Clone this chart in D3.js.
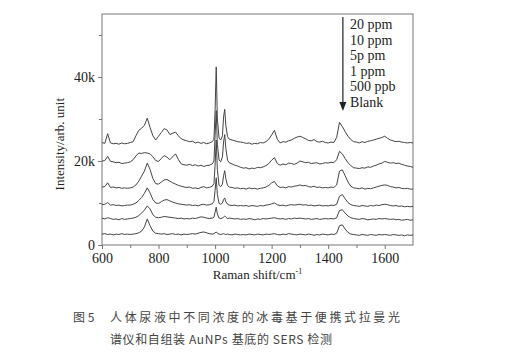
<!DOCTYPE html>
<html>
<head>
<meta charset="utf-8">
<script src="https://cdn.jsdelivr.net/npm/d3@7"></script>
<style>
  body { margin: 0; background: #fff; }
  svg { display: block; }
</style>
</head>
<body>
<script>
// Raman shift grid (cm-1), denser around the 1003 / 1033 bands
const shifts = [
  600, 610, 620, 630, 640, 650, 660, 670, 680, 690,
  700, 710, 720, 730, 740, 750, 760, 770, 780, 790,
  800, 810, 820, 830, 840, 850, 860, 870, 880, 890,
  900, 910, 920, 930, 940, 950, 960, 970, 980, 990,
  996, 1000, 1004, 1008, 1014, 1020, 1026, 1030, 1034, 1038, 1044, 1050,
  1060, 1070, 1080, 1090,
  1100, 1110, 1120, 1130, 1140, 1150, 1160, 1170, 1180, 1190,
  1200, 1210, 1220, 1230, 1240, 1250, 1260, 1270, 1280, 1290,
  1300, 1310, 1320, 1330, 1340, 1350, 1360, 1370, 1380, 1390,
  1400, 1410, 1420, 1430, 1440, 1450, 1460, 1470, 1480, 1490,
  1500, 1510, 1520, 1530, 1540, 1550, 1560, 1570, 1580, 1590,
  1600, 1610, 1620, 1630, 1640, 1650, 1660, 1670, 1680, 1690,
  1700
];

// intensities in thousands (already offset as in the figure)
const ppm20 = [
  24.4, 24.2, 26.5, 24.3, 24.1, 24.2, 24.0, 24.3, 24.1, 24.2,
  24.4, 24.6, 26.0, 27.3, 27.8, 28.5, 30.2, 28.0, 26.0, 25.0,
  25.9, 26.8, 27.7, 27.4, 26.3, 26.6, 26.9, 26.0, 25.3, 25.0,
  24.8, 24.6, 24.7, 24.3, 24.5, 24.2, 24.4, 24.1, 24.3, 24.6,
  25.2, 32.0, 42.4, 30.0, 25.5, 25.0, 26.0, 30.5, 32.3, 28.5, 25.8, 25.2,
  25.0, 24.8, 24.6, 24.5,
  24.4, 24.2, 24.3, 24.0, 24.2, 24.1, 24.4, 24.3, 24.6, 25.2,
  26.2, 27.3, 25.2, 24.3, 24.6, 24.5, 24.8, 25.0, 25.4, 25.7,
  25.9, 25.6, 25.3, 24.9, 24.8, 25.1, 24.6, 24.5, 24.7, 24.4,
  24.3, 24.5, 24.4, 25.6, 29.2, 28.2, 27.0, 25.9, 25.1, 24.6,
  24.5, 24.3, 24.6, 24.4, 24.7, 24.8, 25.0, 25.2, 25.4, 25.6,
  25.9, 25.4, 25.0, 24.8, 24.6, 24.7, 24.5, 24.4, 24.3, 24.4,
  24.3
];
const ppm10 = [
  20.0, 20.1, 21.1, 19.9, 19.8, 19.6, 19.7, 19.4, 19.5, 19.6,
  19.8, 20.3, 21.2, 21.9, 21.8, 22.0, 21.9, 21.7, 21.0, 20.1,
  19.9, 20.6, 21.3, 20.9, 20.3, 21.0, 21.7, 20.4, 19.3, 19.1,
  19.0, 19.2, 18.9, 19.1, 18.8, 19.0, 18.7, 18.9, 19.0, 19.3,
  20.0, 26.0, 32.0, 24.0, 20.2, 19.8, 21.0, 24.5, 26.3, 23.0, 20.2, 19.6,
  19.3, 19.0, 18.8, 18.5,
  18.3, 18.4, 18.1, 18.3, 18.2, 18.5, 18.4, 18.6, 18.9, 19.4,
  20.2, 20.8, 19.4, 19.0, 19.3, 19.1, 19.5, 19.4, 19.2, 19.5,
  20.0, 19.8, 19.6, 19.7, 19.4, 19.5, 19.6, 19.3, 19.4, 19.6,
  19.5, 19.7, 19.6, 20.3, 22.3, 21.7, 20.6, 19.6, 18.9, 18.4,
  18.3, 18.2, 18.4, 18.3, 18.6, 18.5, 18.8, 19.0, 19.3, 19.5,
  19.9, 19.7, 19.5, 19.6, 19.4, 19.5, 19.2, 19.0, 18.8, 18.7,
  18.5
];
const ppm5 = [
  13.8, 13.9, 14.8, 13.7, 13.8, 13.6, 13.7, 13.5, 13.6, 13.5,
  13.6, 13.8, 14.3, 15.2, 16.4, 17.6, 19.5, 18.0, 15.8, 14.6,
  14.5, 15.0, 15.5, 15.6, 15.2, 14.8, 14.5, 14.2, 14.0, 13.8,
  13.7, 13.8, 13.5, 13.6, 13.4, 13.7, 13.9, 13.6, 13.7, 14.0,
  14.6, 19.0, 25.0, 18.0, 14.2, 13.9, 14.5, 16.5, 17.7, 15.8, 14.2, 13.8,
  13.7, 13.5, 13.6, 13.4,
  13.5, 13.3, 13.6, 13.4, 13.5, 13.3, 13.5, 13.6, 13.8, 14.2,
  14.8, 15.1, 14.1, 13.7, 13.8, 13.6, 13.9, 13.8, 14.0, 14.1,
  14.3, 14.1, 14.2, 13.9, 13.8, 14.0, 13.7, 13.8, 13.6, 13.7,
  13.6, 13.8, 13.7, 14.3, 17.6, 17.9, 16.5, 15.0, 14.0, 13.6,
  13.5, 13.4, 13.6, 13.3, 13.5, 13.4, 13.6, 13.8, 14.0, 14.2,
  14.3, 14.2, 13.9, 13.8, 13.6, 13.7, 13.5, 13.4, 13.5, 13.3,
  13.3
];
const ppm1 = [
  9.6, 9.7, 10.1, 9.5, 9.6, 9.4, 9.5, 9.3, 9.4, 9.5,
  9.5, 9.7, 10.0, 10.6, 11.3, 12.3, 13.6, 12.4, 10.8, 10.0,
  9.9, 10.3, 10.7, 10.8, 10.5, 10.2, 10.0, 9.8, 9.7, 9.6,
  9.5, 9.6, 9.4, 9.5, 9.3, 9.6, 9.7, 9.5, 9.6, 9.8,
  10.4, 13.0, 16.0, 12.0, 9.9, 9.7, 10.0, 10.8, 11.2, 10.3, 9.7, 9.5,
  9.4, 9.5, 9.3, 9.4,
  9.3, 9.4, 9.2, 9.4, 9.3, 9.2, 9.4, 9.3, 9.5, 9.6,
  9.8, 10.0, 9.6, 9.4, 9.5, 9.3, 9.5, 9.6, 9.5, 9.6,
  9.7, 9.5, 9.6, 9.4, 9.5, 9.3, 9.4, 9.5, 9.3, 9.4,
  9.3, 9.5, 9.4, 9.7, 11.6, 12.0, 11.0, 10.1, 9.6, 9.4,
  9.3, 9.2, 9.4, 9.3, 9.2, 9.4, 9.3, 9.5, 9.4, 9.6,
  9.7, 9.6, 9.4, 9.3, 9.4, 9.2, 9.3, 9.1, 9.2, 9.1,
  9.2
];
const ppb500 = [
  6.4, 6.2, 6.5, 6.3, 6.1, 6.2, 6.0, 6.3, 6.1, 6.2,
  6.3, 6.4, 6.6, 7.0, 7.6, 8.3, 9.3, 8.6, 7.2, 6.6,
  6.5, 6.6, 6.8, 6.7, 6.6, 6.5, 6.4, 6.3, 6.4, 6.2,
  6.3, 6.2, 6.4, 6.3, 6.5, 6.7, 6.6, 6.4, 6.3, 6.4,
  6.6, 7.8, 9.0, 7.4, 6.4, 6.3, 6.4, 6.7, 6.9, 6.6, 6.3, 6.4,
  6.3, 6.2, 6.3, 6.1,
  6.2, 6.1, 6.3, 6.2, 6.0, 6.2, 6.1, 6.3, 6.2, 6.3,
  6.4, 6.5, 6.3, 6.2, 6.3, 6.1, 6.3, 6.2, 6.4, 6.3,
  6.4, 6.3, 6.2, 6.3, 6.1, 6.2, 6.3, 6.1, 6.2, 6.3,
  6.2, 6.3, 6.2, 6.5, 8.2, 8.4, 7.6, 6.9, 6.5, 6.3,
  6.2, 6.1, 6.3, 6.2, 6.0, 6.1, 6.2, 6.1, 6.3, 6.2,
  6.3, 6.2, 6.1, 6.2, 6.0, 6.1, 5.9, 6.0, 6.1, 5.9,
  6.0
];
const blank = [
  2.6, 2.7, 2.5, 2.6, 2.4, 2.6, 2.5, 2.7, 2.5, 2.6,
  2.5, 2.6, 2.7, 2.9, 3.3, 4.3, 6.2, 4.6, 3.3, 2.8,
  2.7, 2.6, 2.7, 2.5, 2.6, 2.7, 2.5, 2.6, 2.4, 2.6,
  2.5, 2.6, 2.7, 2.6, 2.8, 3.0, 3.1, 2.9, 2.7, 2.6,
  2.7, 2.9, 3.1, 2.8, 2.6, 2.5, 2.6, 2.7, 2.6, 2.5, 2.6, 2.5,
  2.4, 2.6, 2.5, 2.4,
  2.5, 2.4, 2.6, 2.5, 2.4, 2.6, 2.5, 2.4, 2.6, 2.5,
  2.6, 2.7, 2.5, 2.4, 2.6, 2.5, 2.7, 2.6, 2.5, 2.4,
  2.6, 2.5, 2.4, 2.6, 2.5, 2.3, 2.5, 2.4, 2.6, 2.5,
  2.4, 2.6, 2.5, 2.8, 4.6, 4.8, 3.8, 3.0, 2.6, 2.5,
  2.4, 2.3, 2.5, 2.4, 2.3, 2.5, 2.4, 2.3, 2.5, 2.4,
  2.5, 2.4, 2.3, 2.5, 2.4, 2.3, 2.4, 2.2, 2.4, 2.3,
  2.4
];

const seriesNames = ["20 ppm", "10 ppm", "5p pm", "1 ppm", "500 ppb", "Blank"];
const series = [ppm20, ppm10, ppm5, ppm1, ppb500, blank];

const xTicks = [600, 700, 800, 900, 1000, 1100, 1200, 1300, 1400, 1500, 1600];
const yTicks = [0, 10000, 20000, 30000, 40000, 50000];

const caption1Lead = "图 5";
const caption1 = "人体尿液中不同浓度的冰毒基于便携式拉曼光";
const caption2 = "谱仪和自组装 AuNPs 基底的 SERS 检测";

const W = 507, H = 354;
const margin = { top: 14, right: 94, bottom: 109, left: 102 };
const width = W - margin.left - margin.right,
  height = H - margin.top - margin.bottom;

const serif = "'Liberation Serif', 'DejaVu Serif', serif";
const cjk = "'Noto Sans CJK SC', sans-serif";
const frameColor = "#777";

const svg = d3.select("body").append("svg")
  .attr("width", W)
  .attr("height", H);

const g = svg.append("g")
  .attr("transform", `translate(${margin.left},${margin.top})`);

const x = d3.scaleLinear().domain([600, 1700]).range([0, width]);
const y = d3.scaleLinear().domain([0, 55000]).range([height, 0]);

// axes
const xAxis = d3.axisBottom(x)
  .tickValues(xTicks)
  .tickSize(4)
  .tickPadding(4)
  .tickFormat(d => d % 200 === 0 ? d : "");
const yAxis = d3.axisLeft(y)
  .tickValues(yTicks)
  .tickSize(4)
  .tickPadding(3)
  .tickFormat(d => d % 20000 === 0 ? (d === 0 ? "0" : d / 1000 + "k") : "");

const gx = g.append("g").attr("transform", `translate(0,${height})`).call(xAxis);
const gy = g.append("g").call(yAxis);

[gx, gy].forEach(a => {
  a.select(".domain").remove();
  a.selectAll("line").attr("stroke", frameColor);
  a.selectAll("text")
    .attr("font-family", serif)
    .attr("font-size", 14)
    .attr("fill", "#222");
});
gx.selectAll(".tick").filter(d => d % 200 !== 0).select("line").attr("y2", 3);
gy.selectAll(".tick").filter(d => d % 20000 !== 0).select("line").attr("x2", -3);

// frame
g.append("rect")
  .attr("width", width)
  .attr("height", height)
  .attr("fill", "none")
  .attr("stroke", frameColor)
  .attr("stroke-width", 1);

// spectra
const line = d3.line()
  .x((d, i) => x(shifts[i]))
  .y(d => y(d * 1000));

g.append("g")
  .selectAll("path")
  .data(series)
  .join("path")
  .attr("d", d => line(d))
  .attr("fill", "none")
  .attr("stroke", "#444")
  .attr("stroke-width", 1)
  .attr("stroke-linejoin", "round");

// legend: arrow + labels
const legX = x(1452), legY0 = 16 - margin.top, legStep = 15.5;
g.append("line")
  .attr("x1", legX).attr("x2", legX)
  .attr("y1", legY0 + 1).attr("y2", legY0 + 88)
  .attr("stroke", "#222").attr("stroke-width", 1.2);
g.append("path")
  .attr("d", `M${legX - 3.5},${legY0 + 86} L${legX + 3.5},${legY0 + 86} L${legX},${legY0 + 95} Z`)
  .attr("fill", "#222");

g.append("g")
  .selectAll("text")
  .data(seriesNames)
  .join("text")
  .attr("x", legX + 7)
  .attr("y", (d, i) => legY0 + 13 + i * legStep)
  .attr("font-family", serif)
  .attr("font-size", 14)
  .attr("fill", "#222")
  .text(d => d);

// axis titles
const xt = svg.append("text")
  .attr("x", margin.left + x(1150))
  .attr("y", 279)
  .attr("text-anchor", "middle")
  .attr("font-family", serif)
  .attr("font-size", 13)
  .attr("fill", "#222")
  .text("Raman shift/cm");
xt.append("tspan")
  .attr("dy", -5)
  .attr("font-size", 8)
  .text("-1");

svg.append("text")
  .attr("transform", `translate(64,${margin.top + y(24000)}) rotate(-90)`)
  .attr("text-anchor", "middle")
  .attr("font-family", serif)
  .attr("font-size", 13)
  .attr("fill", "#222")
  .text("Intensity/arb. unit");

// caption
const cap = svg.append("g")
  .attr("font-family", cjk)
  .attr("font-size", 12)
  .attr("fill", "#444");
cap.append("text").attr("x", 73).attr("y", 322).text(caption1Lead);
cap.append("text").attr("x", 110).attr("y", 322)
  .attr("textLength", 290).attr("lengthAdjust", "spacing")
  .text(caption1);
cap.append("text").attr("x", 110).attr("y", 344)
  .attr("textLength", 222).attr("lengthAdjust", "spacing")
  .text(caption2);
</script>
</body>
</html>
